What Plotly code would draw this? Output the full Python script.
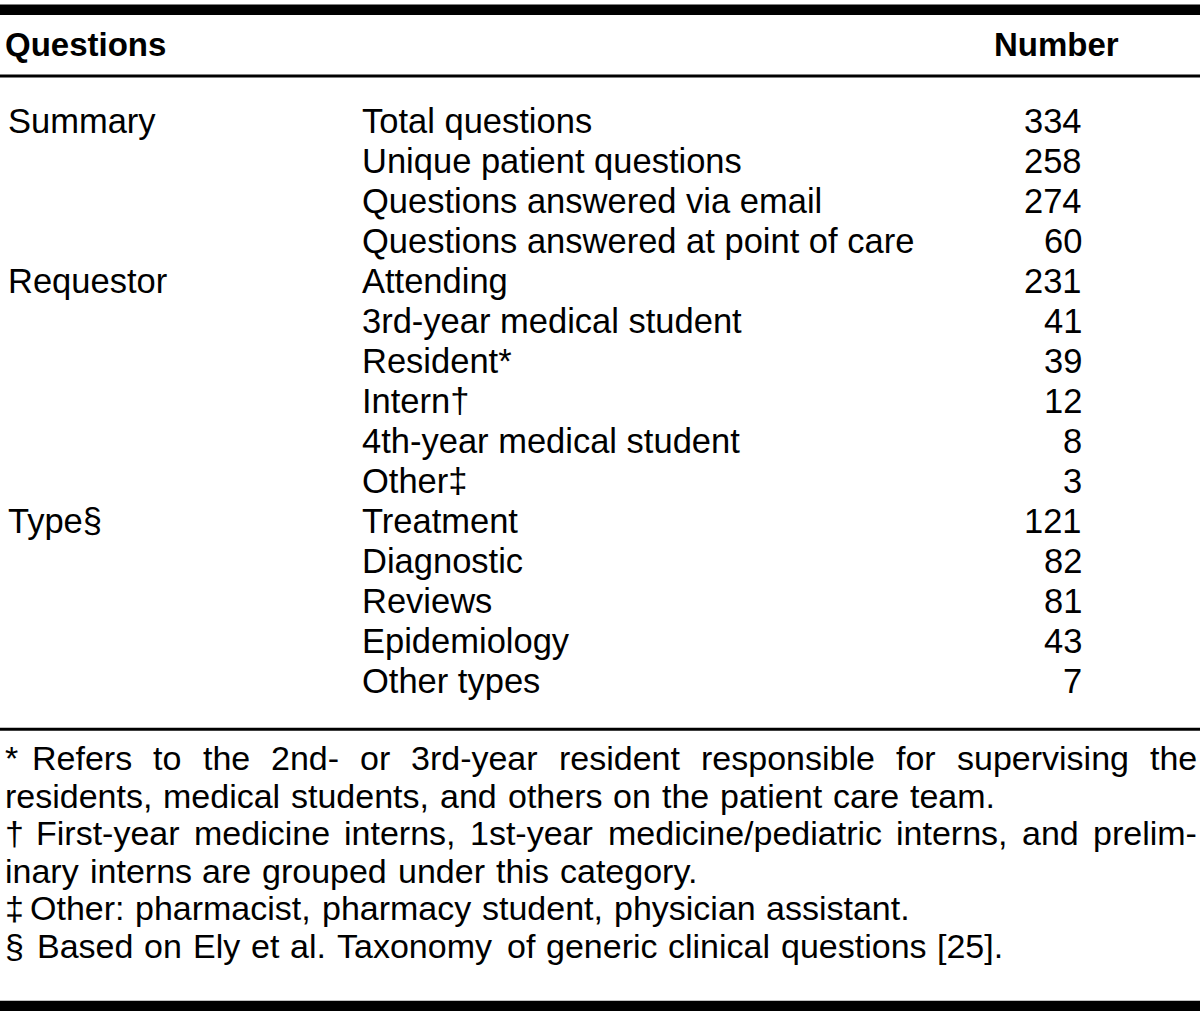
import plotly.graph_objects as go

# ---------------- data ----------------
header_left = "Questions"
header_right = "Number"

group_labels = ["Summary", "Requestor", "Type§"]
group_start_rows = [0, 4, 10]

items = [
    "Total questions",
    "Unique patient questions",
    "Questions answered via email",
    "Questions answered at point of care",
    "Attending",
    "3rd-year medical student",
    "Resident*",
    "Intern†",
    "4th-year medical student",
    "Other‡",
    "Treatment",
    "Diagnostic",
    "Reviews",
    "Epidemiology",
    "Other types",
]
numbers = [334, 258, 274, 60, 231, 41, 39, 12, 8, 3, 121, 82, 81, 43, 7]

footnote_marks = ["*", "", "†", "", "‡", "§"]
footnote_lines = [
    "Refers to the 2nd- or 3rd-year resident responsible for supervising the",
    "residents, medical students, and others on the patient care team.",
    "First-year medicine interns, 1st-year medicine/pediatric interns, and prelim-",
    "inary interns are grouped under this category.",
    "Other: pharmacist, pharmacy student, physician assistant.",
    "Based on Ely et al. Taxonomy of generic clinical questions [25].",
]
footnote_justified = [True, False, True, False, False, False]

# ---------------- layout helpers ----------------
W, H = 1200, 1011
FONT = "Liberation Sans, Arial, Helvetica, sans-serif"
BODY = 34.5
FOOT = 34
HEAD = 33

# Arial / Liberation Sans advance widths (per 1000 em)
ARIAL = {
    ' ': 278, '!': 278, '"': 355, '#': 556, '$': 556, '%': 889, '&': 667, "'": 191,
    '(': 333, ')': 333, '*': 389, '+': 584, ',': 278, '-': 333, '.': 278, '/': 278,
    ':': 278, ';': 278, '<': 584, '=': 584, '>': 584, '?': 556, '@': 1015,
    'A': 667, 'B': 667, 'C': 722, 'D': 722, 'E': 667, 'F': 611, 'G': 778, 'H': 722,
    'I': 278, 'J': 500, 'K': 667, 'L': 556, 'M': 833, 'N': 722, 'O': 778, 'P': 667,
    'Q': 778, 'R': 722, 'S': 667, 'T': 611, 'U': 722, 'V': 667, 'W': 944, 'X': 667,
    'Y': 667, 'Z': 611, '[': 278, '\\': 278, ']': 278, '^': 469, '_': 556, '`': 333,
    'a': 556, 'b': 556, 'c': 500, 'd': 556, 'e': 556, 'f': 278, 'g': 556, 'h': 556,
    'i': 222, 'j': 222, 'k': 500, 'l': 222, 'm': 833, 'n': 556, 'o': 556, 'p': 556,
    'q': 556, 'r': 333, 's': 500, 't': 278, 'u': 556, 'v': 500, 'w': 722, 'x': 500,
    'y': 500, 'z': 500, '†': 556, '‡': 556, '§': 556,
}
for d in "0123456789":
    ARIAL[d] = 556


def text_width(s, size):
    return sum(ARIAL.get(c, 556) for c in s) * size / 1000.0


fig = go.Figure()
fig.add_trace(go.Scatter(x=[0, W], y=[0, H], mode="markers",
                         marker=dict(opacity=0), hoverinfo="skip", showlegend=False))

ann = []


def add_text(x, y, s, anchor="left", size=BODY, bold=False):
    ann.append(dict(
        x=x, y=y, xref="x", yref="y", text=("<b>%s</b>" % s) if bold else s,
        showarrow=False, xanchor=anchor, yanchor="middle",
        font=dict(family=FONT, size=size, color="black"),
    ))


# header
add_text(3, 44, header_left, "left", HEAD, True)
add_text(1056, 44, header_right, "center", HEAD, True)

# rows
ROW0, STEP = 121, 40
COL1_X, COL2_X, NUM_X = 6, 360, 1084
for i, (label, val) in enumerate(zip(items, numbers)):
    y = ROW0 + STEP * i
    add_text(COL2_X, y, label, "left")
    add_text(NUM_X, y, str(val), "right")
for g, r in zip(group_labels, group_start_rows):
    add_text(COL1_X, ROW0 + STEP * r, g, "left")

# footnotes (marks set apart, text placed word by word; first lines justified)
FN0, FSTEP = 758, 37.6
LEFT, RIGHT = 3, 1195
MARK_INDENT = {"*": 27, "†": 31, "‡": 25, "§": 32, "": 0}
SPACE_STRETCH = 1.15
for k, (mark, line, just) in enumerate(zip(footnote_marks, footnote_lines,
                                           footnote_justified)):
    y = FN0 + FSTEP * k
    start = LEFT + MARK_INDENT[mark]
    if mark:
        add_text(LEFT, y, mark, "left", FOOT)
    words = line.split(" ")
    widths = [text_width(w, FOOT) for w in words]
    if just:
        gap = (RIGHT - start - sum(widths)) / (len(words) - 1)
    else:
        gap = text_width(" ", FOOT) * SPACE_STRETCH
    x = start
    for w, wd in zip(words, widths):
        add_text(x, y, w, "left", FOOT)
        x += wd + gap

# rules
rules = [(4.5, 15.0), (74.5, 77.5), (727.8, 730.8), (1000.8, 1012.0)]
shapes = [dict(type="rect", xref="x", yref="y", x0=-5, x1=W + 5, y0=a, y1=b,
               fillcolor="black", line=dict(width=0), layer="above")
          for a, b in rules]

fig.update_layout(
    width=W, height=H,
    margin=dict(l=0, r=0, t=0, b=0),
    paper_bgcolor="white", plot_bgcolor="white",
    xaxis=dict(range=[0, W], visible=False, fixedrange=True),
    yaxis=dict(range=[H, 0], visible=False, fixedrange=True),
    annotations=ann, shapes=shapes, showlegend=False,
)

fig.write_html(
    "out.html",
    config={"displayModeBar": False},
    post_script="document.body.style.margin='0';document.body.style.padding='0';"
                "document.body.style.overflow='hidden';",
)
